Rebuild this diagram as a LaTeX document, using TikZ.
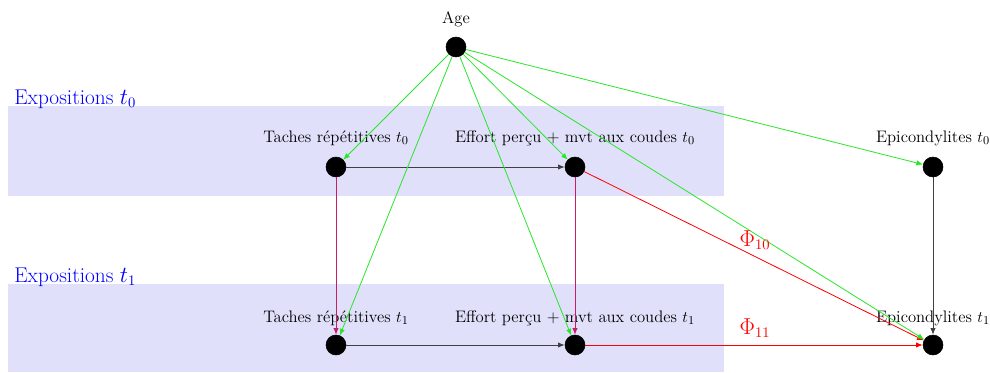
\documentclass[tikz,border=0pt]{standalone}
\usetikzlibrary{arrows.meta}
\definecolor{bandcol}{RGB}{224,224,250}
\definecolor{vcol}{RGB}{200,30,100}
\definecolor{gcol}{RGB}{40,230,40}
\tikzset{
  dot/.style={circle,fill=black,draw=black,minimum size=15pt,inner sep=0pt},
  lab/.style={font=\fontsize{12.5}{14}\selectfont,inner sep=0pt},
  grp/.style={font=\fontsize{16}{19}\selectfont,text=blue,inner sep=0pt,anchor=base west},
  phi/.style={font=\fontsize{16}{19}\selectfont,text=red,inner sep=0pt},
  arr/.style={line width=0.6pt,-{Latex[length=5pt,width=4pt]}},
  ga/.style={arr,draw=gcol},
  ba/.style={arr,draw=black!75},
  va/.style={arr,draw=vcol},
  ra/.style={arr,draw=red},
}
\begin{document}
\begin{tikzpicture}[x=0.75pt,y=-0.75pt]
\useasboundingbox (0,0) rectangle (990,372);
\fill[bandcol] (8,106) rectangle (724,196);
\fill[bandcol] (8,284) rectangle (724,372);
\node[grp] (g0) at (14,104) {Expositions $t_0$};
\node[grp] (g1) at (14,282) {Expositions $t_1$};

\node[dot] (A) at (456,47) {};
\node[dot] (T0) at (336,167) {};
\node[dot] (E0) at (575,167) {};
\node[dot] (P0) at (933,167) {};
\node[dot] (T1) at (336,345) {};
\node[dot] (E1) at (575,345) {};
\node[dot] (P1) at (933,345) {};

\node[lab] (lA) at (456,19) {Age};
\node[lab] (lT0) at (336,138) {Taches répétitives $t_0$};
\node[lab] (lE0) at (575,138) {Effort perçu + mvt aux coudes $t_0$};
\node[lab] (lP0) at (933,138) {Epicondylites $t_0$};
\node[lab] (lT1) at (336,318) {Taches répétitives $t_1$};
\node[lab] (lE1) at (575,318) {Effort perçu + mvt aux coudes $t_1$};
\node[lab] (lP1) at (933,318) {Epicondylites $t_1$};

\draw[ba] (T0) -- (E0);
\draw[ba] (T1) -- (E1);
\draw[ba] (P0) -- (P1);
\draw[va] (T0) -- (T1);
\draw[va] (E0) -- (E1);
\draw[ra] (E0) -- (P1);
\draw[ra] (E1) -- (P1);
\draw[ga] (A) -- (T0);
\draw[ga] (A) -- (T1);
\draw[ga] (A) -- (E0);
\draw[ga] (A) -- (E1);
\draw[ga] (A) -- (P0);
\draw[ga] (A) -- (P1);

\node[phi] (f10) at (755,240) {$\Phi_{10}$};
\node[phi] (f11) at (755,328) {$\Phi_{11}$};
\end{tikzpicture}
\end{document}
